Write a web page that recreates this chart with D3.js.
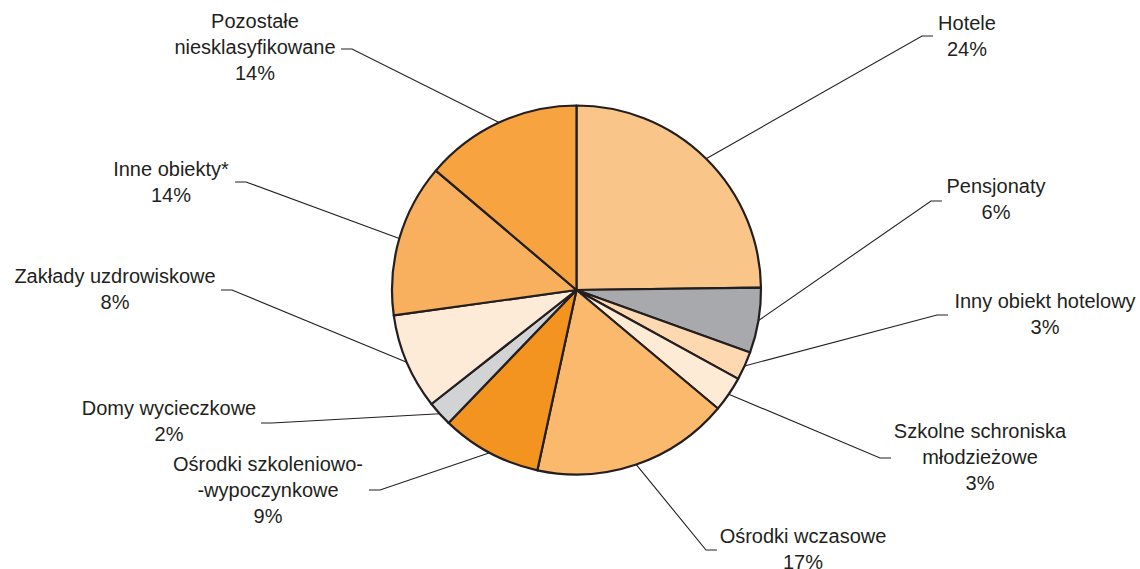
<!DOCTYPE html>
<html>
<head>
<meta charset="utf-8">
<style>
body { margin: 0; background: #fff; }
path.slice { stroke: #231f20; stroke-width: 2.2px; stroke-linejoin: round; }
path.leader { fill: none; stroke: #231f20; stroke-width: 1.1px; }
text { fill: #231f20; font: 20px "Liberation Sans", Arial, sans-serif; }
</style>
</head>
<body>
<script src="https://cdn.jsdelivr.net/npm/d3@7/dist/d3.min.js"></script>
<script>

// categories, clockwise from 12 o'clock
var categories = [
  ["Hotele"],
  ["Pensjonaty"],
  ["Inny obiekt hotelowy"],
  ["Szkolne schroniska", "młodzieżowe"],
  ["Ośrodki wczasowe"],
  ["Ośrodki szkoleniowo-", "-wypoczynkowe"],
  ["Domy wycieczkowe"],
  ["Zakłady uzdrowiskowe"],
  ["Inne obiekty*"],
  ["Pozostałe", "niesklasyfikowane"]
];

// share of each slice
var shares = [24.8, 5.7, 2.5, 3.1, 17.3, 8.8, 2.2, 8.4, 13.4, 13.8];

// printed percentage labels
var pctLabels = ["24%", "6%", "3%", "3%", "17%", "9%", "2%", "8%", "14%", "14%"];

var colors = ["#f9c589", "#a7a9ac", "#fdd8b0", "#feebd5", "#fbb96e",
              "#f39320", "#d1d3d4", "#feebd7", "#f8b05e", "#f6a340"];

// label placement: text centre x, first baseline y, elbow point, direction of the short tick
var labelPos = [
  {x: 967, y: 30,  ex: 922, ey: 36,  dir: 1},
  {x: 996, y: 193, ex: 931, ey: 201, dir: 1},
  {x: 1045, y: 308, ex: 937, ey: 315, dir: 1},
  {x: 980, y: 438, ex: 880, ey: 458, dir: 1},
  {x: 803, y: 543, ex: 706, ey: 550, dir: 1},
  {x: 268, y: 471, ex: 380, ey: 490, dir: -1},
  {x: 169, y: 415, ex: 272, ey: 423, dir: -1},
  {x: 115, y: 283, ex: 232, ey: 290, dir: -1},
  {x: 171, y: 176, ex: 246, ey: 182, dir: -1},
  {x: 255, y: 28,  ex: 352, ey: 49,  dir: -1}
];

var width = 1140,
    height = 569,
    cx = 576.5,
    cy = 290,
    radius = 184.5,
    lineH = 26;

var svg = d3.select("body").append("svg")
    .attr("width", width)
    .attr("height", height);

var pie = d3.pie().sort(null).value(function(d) { return d; });
var arcs = pie(shares);

var arc = d3.arc().innerRadius(0).outerRadius(radius);
var rim = d3.arc().innerRadius(radius).outerRadius(radius);

var g = svg.append("g").attr("transform", "translate(" + cx + "," + cy + ")");

g.selectAll("path.slice")
    .data(arcs)
    .enter().append("path")
    .attr("class", "slice")
    .attr("d", arc)
    .style("fill", function(d, i) { return colors[i]; });

// leader lines: from rim at mid-angle to elbow, then short horizontal
svg.selectAll("path.leader")
    .data(arcs)
    .enter().append("path")
    .attr("class", "leader")
    .attr("d", function(d, i) {
      var p = rim.centroid(d);
      var L = labelPos[i];
      return "M" + (cx + p[0]) + "," + (cy + p[1]) +
             "L" + L.ex + "," + L.ey +
             "L" + (L.ex + 11 * L.dir) + "," + L.ey;
    });

// labels
var lab = svg.selectAll("text.lab")
    .data(categories)
    .enter().append("text")
    .attr("class", "lab")
    .attr("text-anchor", "middle")
    .attr("x", function(d, i) { return labelPos[i].x; })
    .attr("y", function(d, i) { return labelPos[i].y; });

lab.each(function(d, i) {
  var t = d3.select(this);
  var lines = d.concat([pctLabels[i]]);
  lines.forEach(function(s, k) {
    t.append("tspan")
      .attr("x", labelPos[i].x)
      .attr("dy", k === 0 ? 0 : lineH)
      .text(s);
  });
});

</script>
</body>
</html>
